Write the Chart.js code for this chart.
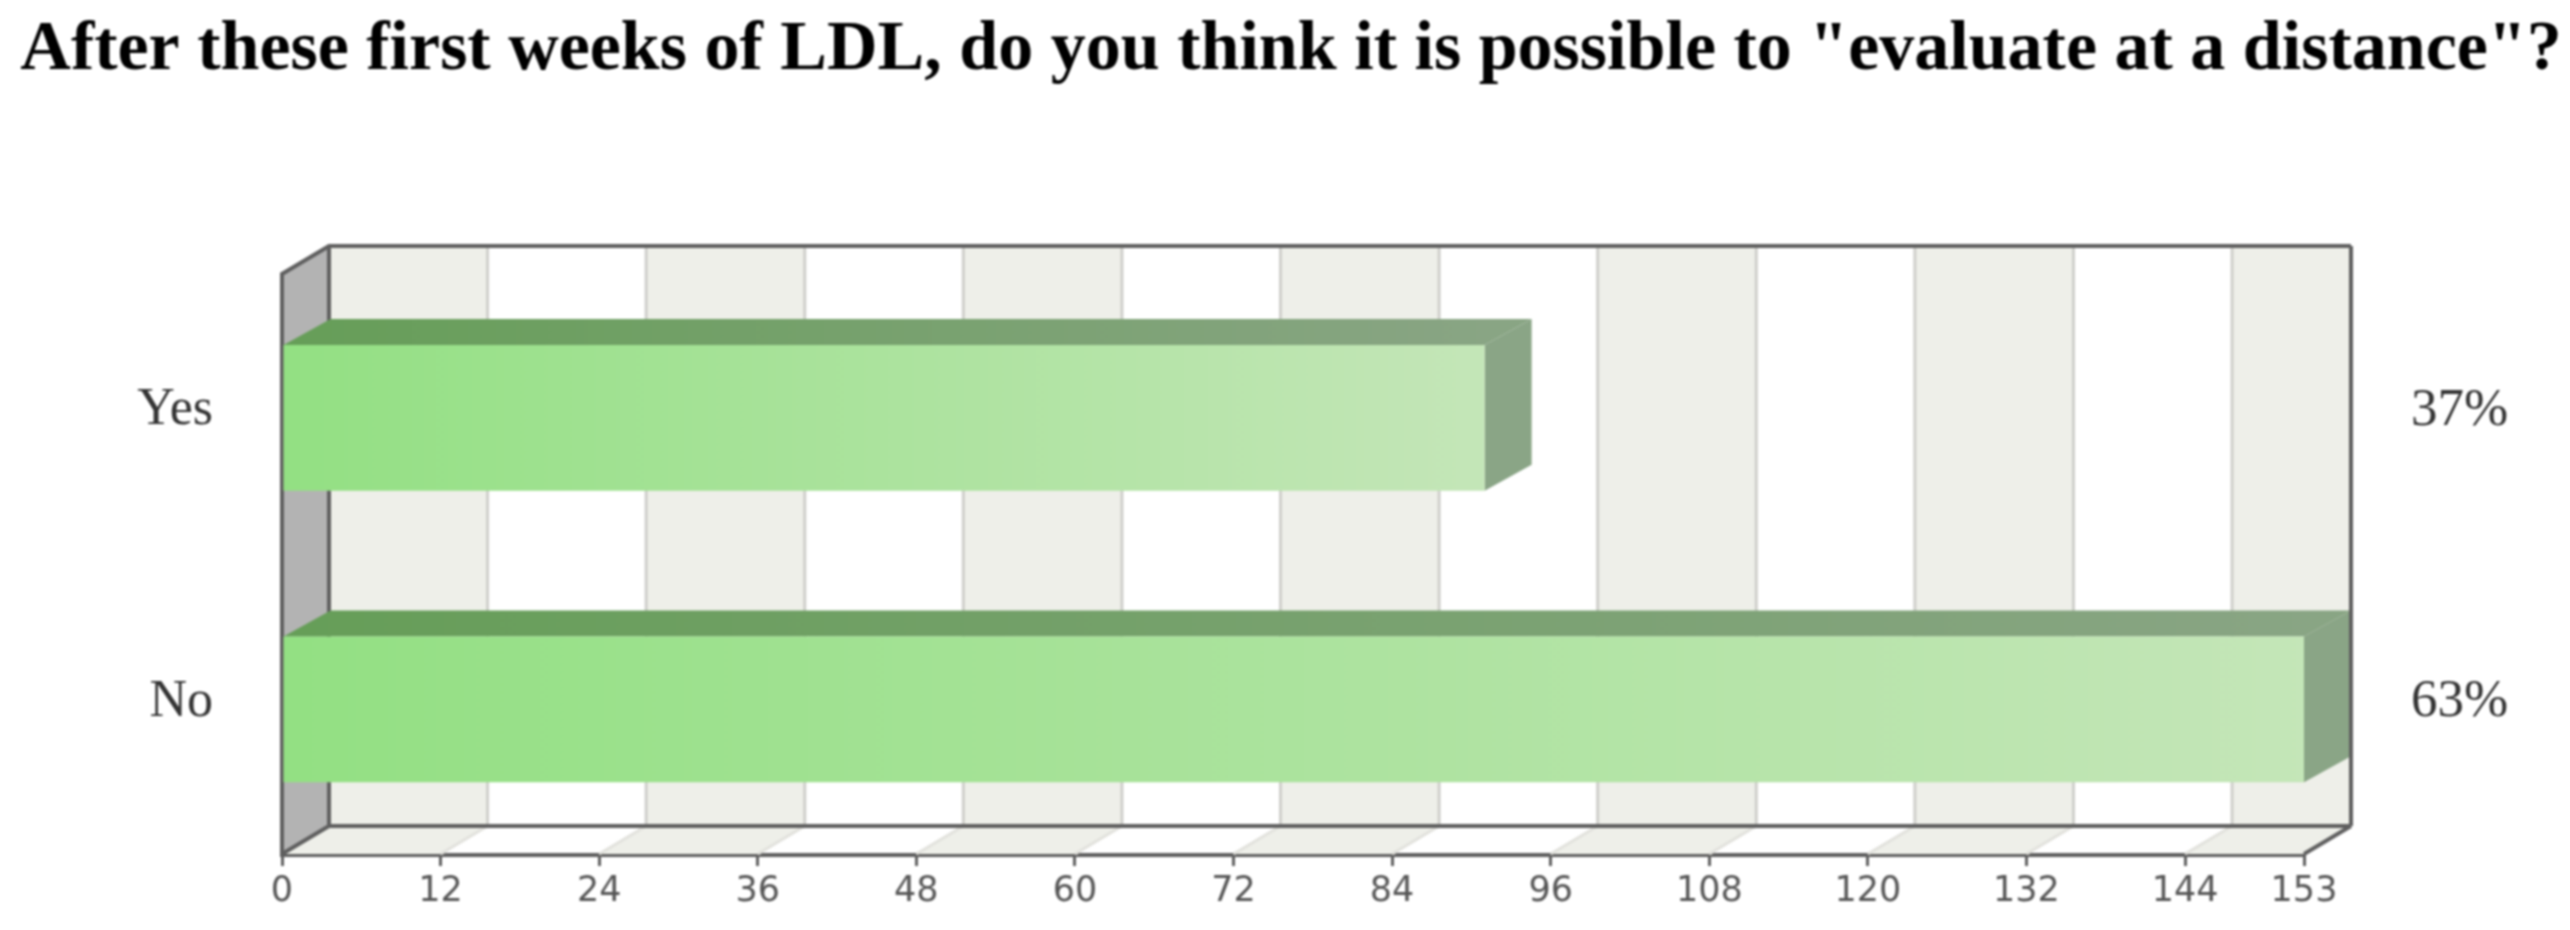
<!DOCTYPE html>
<html lang="en">
<head>
  <meta charset="UTF-8">
  <title>After these first weeks of LDL</title>
  <script src="https://cdn.jsdelivr.net/npm/chart.js"></script>
  <style>
    body { margin: 0; background: white; }
    canvas { display: block; filter: blur(1.1px); }
  </style>
</head>
<body>
  <canvas id="ldlChart" width="2570" height="930"></canvas>

  <script>
    const titleText = 'After these first weeks of LDL, do you think it is possible to "evaluate at a distance"?';
    const categories = ['Yes', 'No'];
    const answers = [91, 153];
    const percents = ['37%', '63%'];
    const tickValues = [0, 12, 24, 36, 48, 60, 72, 84, 96, 108, 120, 132, 144, 153];

    // depth of the fake 3D box
    const depthX = 47;
    const depthY = 28;
    const barDepthY = 26;
    const wallInset = 2;

    const ctx = document.getElementById('ldlChart').getContext('2d');

    function poly(c, pts, fill) {
      c.beginPath();
      pts.forEach((p, i) => i ? c.lineTo(p[0], p[1]) : c.moveTo(p[0], p[1]));
      c.closePath();
      c.fillStyle = fill;
      c.fill();
    }

    function hGradient(c, x0, x1, from, to) {
      const g = c.createLinearGradient(x0, 0, x1, 0);
      g.addColorStop(0, from);
      g.addColorStop(1, to);
      return g;
    }

    // tick padding would otherwise be added to the layout padding of the y axes
    function fixYAxis(scale, width) {
      scale.width = width;
      scale.paddingTop = 0;
      scale.paddingBottom = 0;
    }

    const box3d = {
      id: 'box3d',
      beforeDatasetsDraw(chart) {
        const c = chart.ctx;
        const xs = chart.scales.x;
        const area = chart.chartArea;
        const frontTop = area.top + wallInset;
        const frontBottom = area.bottom - 1;
        const backTop = frontTop - depthY;
        const backBottom = frontBottom - depthY;
        c.save();

        // striped back wall and floor
        tickValues.slice(0, -1).forEach((v, i) => {
          if (i % 2) return;
          const a = xs.getPixelForValue(v);
          const b = xs.getPixelForValue(tickValues[i + 1]);
          poly(c, [[a + depthX, backTop], [b + depthX, backTop], [b + depthX, backBottom], [a + depthX, backBottom]], '#eeefe9');
          poly(c, [[a + depthX, backBottom], [b + depthX, backBottom], [b, frontBottom], [a, frontBottom]], '#eeefe9');
        });

        // grid lines
        c.lineWidth = 3;
        tickValues.slice(1, -1).forEach(v => {
          const p = xs.getPixelForValue(v);
          c.strokeStyle = '#cfcfcb';
          c.beginPath();
          c.moveTo(p + depthX, backTop);
          c.lineTo(p + depthX, backBottom);
          c.stroke();
          c.strokeStyle = '#e2e2dd';
          c.beginPath();
          c.moveTo(p + depthX, backBottom);
          c.lineTo(p, frontBottom);
          c.stroke();
        });

        // left wall
        const l = area.left;
        const r = area.right;
        poly(c, [[l, frontTop], [l + depthX, backTop], [l + depthX, backBottom], [l, frontBottom]], '#b3b3b3');

        // frame
        c.strokeStyle = '#5f5f5f';
        c.lineWidth = 4;
        c.beginPath();
        c.moveTo(l, frontBottom);
        c.lineTo(l, frontTop);
        c.lineTo(l + depthX, backTop);
        c.lineTo(r + depthX, backTop);
        c.moveTo(l + depthX, backTop);
        c.lineTo(l + depthX, backBottom);
        c.lineTo(r + depthX, backBottom);
        c.moveTo(l, frontBottom);
        c.lineTo(l + depthX, backBottom);
        c.moveTo(r, frontBottom);
        c.lineTo(r + depthX, backBottom);
        c.stroke();

        // top and side of the bars
        chart.getDatasetMeta(0).data.forEach(bar => {
          const top = bar.y - bar.height / 2;
          const bottom = bar.y + bar.height / 2;
          poly(c, [[bar.base, top], [bar.base + depthX, top - barDepthY], [bar.x + depthX, top - barDepthY], [bar.x, top]],
            hGradient(c, bar.base, bar.x, '#669e58', '#89a584'));
          poly(c, [[bar.x, top], [bar.x + depthX, top - barDepthY], [bar.x + depthX, bottom - barDepthY], [bar.x, bottom]], '#8aa586');
        });
        c.restore();
      },
      afterDatasetsDraw(chart) {
        // right edge sits over the long bar
        const c = chart.ctx;
        const area = chart.chartArea;
        const xr = area.right + depthX;
        c.save();
        c.strokeStyle = '#5f5f5f';
        c.lineWidth = 4;
        c.beginPath();
        c.moveTo(xr, area.top + wallInset - depthY);
        c.lineTo(xr, area.bottom - 1 - depthY);
        c.stroke();
        c.restore();
      }
    };

    new Chart(ctx, {
      type: 'bar',
      data: {
        labels: categories,
        datasets: [{
          data: answers,
          categoryPercentage: 1,
          barPercentage: 0.5,
          borderWidth: 0,
          backgroundColor(context) {
            const chart = context.chart;
            if (!chart.chartArea) return '#93e083';
            const xs = chart.scales.x;
            return hGradient(chart.ctx, xs.getPixelForValue(0), xs.getPixelForValue(answers[context.dataIndex]), '#93e083', '#c4e6b8');
          }
        }]
      },
      options: {
        indexAxis: 'y',
        responsive: false,
        animation: false,
        layout: { padding: { left: 12 } },
        plugins: {
          legend: { display: false },
          tooltip: { enabled: false },
          title: {
            display: true,
            text: titleText,
            color: '#000',
            font: { family: '"Liberation Serif", serif', size: 70, weight: 'bold', lineHeight: 1 },
            padding: { top: 16, bottom: 186 }
          }
        },
        scales: {
          x: {
            min: 0,
            max: 153,
            afterBuildTicks(scale) { scale.ticks = tickValues.map(v => ({ value: v })); },
            afterFit(scale) { scale.height = 75; },
            grid: { drawOnChartArea: false, color: '#5f5f5f', lineWidth: 3, tickLength: 11 },
            border: { color: '#5f5f5f', width: 4 },
            ticks: {
              autoSkip: false,
              maxRotation: 0,
              padding: 5,
              color: '#555',
              font: { family: '"DejaVu Sans", sans-serif', size: 35 }
            }
          },
          y: {
            offset: true,
            afterFit(scale) { fixYAxis(scale, 270); },
            grid: { display: false },
            border: { display: false },
            ticks: {
              padding: 61,
              labelOffset: -7,
              color: '#333',
              font: { family: '"Liberation Serif", serif', size: 52 }
            }
          },
          y2: {
            type: 'category',
            labels: percents,
            position: 'right',
            offset: true,
            afterFit(scale) { fixYAxis(scale, 266); },
            grid: { display: false },
            border: { display: false },
            ticks: {
              padding: 99,
              labelOffset: -7,
              color: '#333',
              font: { family: '"Liberation Serif", serif', size: 53 }
            }
          }
        }
      },
      plugins: [box3d]
    });
  </script>
</body>
</html>
